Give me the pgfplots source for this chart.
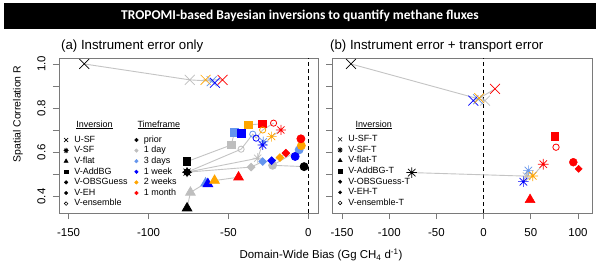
\documentclass[border=0pt]{standalone}
\usepackage{fontspec}
\setmainfont{Liberation Sans}
\newfontfamily\carlito{Carlito}
\usepackage{pgfplots}
\usepackage{pgfplotstable}
\pgfplotsset{compat=1.18}
\definecolor{rgray}{HTML}{BEBEBE}
\definecolor{cblue}{HTML}{6495ED}
\definecolor{rblue}{HTML}{0000FF}
\definecolor{rorange}{HTML}{FFA500}
\definecolor{rred}{HTML}{FF0000}
\definecolor{boxgray}{HTML}{7A7A7A}
\definecolor{lineg}{HTML}{C4C4C4}

\pgfdeclareplotmark{rast}{%
 \pgfpathmoveto{\pgfqpoint{-\pgfplotmarksize}{0pt}}\pgfpathlineto{\pgfqpoint{\pgfplotmarksize}{0pt}}%
 \pgfpathmoveto{\pgfqpoint{0pt}{-\pgfplotmarksize}}\pgfpathlineto{\pgfqpoint{0pt}{\pgfplotmarksize}}%
 \pgfpathmoveto{\pgfqpoint{-.707\pgfplotmarksize}{-.707\pgfplotmarksize}}\pgfpathlineto{\pgfqpoint{.707\pgfplotmarksize}{.707\pgfplotmarksize}}%
 \pgfpathmoveto{\pgfqpoint{-.707\pgfplotmarksize}{.707\pgfplotmarksize}}\pgfpathlineto{\pgfqpoint{.707\pgfplotmarksize}{-.707\pgfplotmarksize}}%
 \pgfusepathqstroke}
\pgfdeclareplotmark{rdiam}{%
 \pgfpathmoveto{\pgfqpoint{0pt}{\pgfplotmarksize}}\pgfpathlineto{\pgfqpoint{\pgfplotmarksize}{0pt}}%
 \pgfpathlineto{\pgfqpoint{0pt}{-\pgfplotmarksize}}\pgfpathlineto{\pgfqpoint{-\pgfplotmarksize}{0pt}}%
 \pgfpathclose\pgfusepathqfillstroke}

% columns: bias (Gg CH4/d), R, timeframe class (p=prior,d=1 day,t=3 days,w=1 week,f=2 weeks,m=1 month)
\pgfplotstableread{
x y c
-140.2 1.000 p
-74.2 0.928 d
-60.5 0.922 t
-58.5 0.915 w
-64.3 0.928 f
-53.7 0.928 m
}\usf
\pgfplotstableread{
x y c
-75.9 0.510 p
-31.7 0.573 d
-28.2 0.648 t
-28.6 0.633 w
-23.0 0.671 f
-17.2 0.701 m
}\vsf
\pgfplotstableread{
x y c
-75.9 0.347 p
-73.8 0.418 d
-64.3 0.460 t
-62.9 0.457 w
-58.7 0.472 f
-43.7 0.487 m
}\vflat
\pgfplotstableread{
x y c
-75.9 0.558 p
-48.3 0.633 d
-46.2 0.691 t
-42.1 0.686 w
-37.5 0.724 f
-28.6 0.729 m
}\vadd
\pgfplotstableread{
x y c
-2.7 0.535 p
-22.4 0.541 d
-5.8 0.611 t
-8.3 0.581 w
-4.4 0.630 f
-4.7 0.661 m
}\vobs
\pgfplotstableread{
x y c
-75.9 0.510 p
-35.8 0.533 d
-28.6 0.558 t
-23.0 0.562 w
-17.8 0.576 f
-14.1 0.596 m
}\veh
\pgfplotstableread{
x y c
-75.9 0.510 p
-42.1 0.614 d
-34.8 0.682 t
-32.7 0.664 w
-28.6 0.701 f
-21.8 0.732 m
}\vens
\pgfplotstableread{
x y c
-140.5 1.000 p
1.5 0.834 d
-5.9 0.840 t
-10.9 0.834 w
-4.6 0.845 f
12.1 0.887 m
}\usft
\pgfplotstableread{
x y c
-76.2 0.508 p
45.5 0.492 d
47.4 0.517 t
42.1 0.467 w
52.0 0.493 f
63.2 0.546 m
}\vsft

\pgfplotsset{
 panel/.style={anchor=south west, scale only axis, height=155bp,
   ymin=0.325, ymax=1.027,
   axis line style={boxgray, line width=0.9bp},
   every tick/.style={boxgray, line width=0.9bp},
   tick align=outside, major tick length=6bp,
   xtick pos=bottom, ytick pos=left,
   ytick={0.4,0.5,0.6,0.7,0.8,0.9,1.0},
   ticklabel style={font=\fontsize{11.5}{12}\selectfont},
   xticklabel shift=6bp,
   yticklabel style={rotate=90, anchor=south},
   yticklabel shift=4bp},
 tf/.style={forget plot, scatter, only marks, scatter src=explicit symbolic,
   line width=0.8bp,
   scatter/classes={p={black}, d={rgray}, t={cblue}, w={rblue}, f={rorange}, m={rred}}},
 conn/.style={forget plot, lineg, line width=0.9bp, no markers},
 zero/.style={forget plot, black, line width=0.9bp, dash pattern=on 4bp off 3bp},
 leg/.style={legend cell align=left,
   legend style={draw=none, fill=none, inner sep=0pt, outer sep=0pt,
     font=\fontsize{9}{10}\selectfont, row sep=1bp, column sep=5bp,
     nodes={inner sep=0.6bp, text height=6.5bp, text depth=1.9bp}, anchor=north west},
   legend image code/.code={\draw[##1] plot coordinates {(0bp,0bp)};}},
}

\begin{document}
\begin{tikzpicture}
\path[use as bounding box, fill=white] (0bp,0bp) rectangle (600bp,271bp);
\fill[black] (4bp,242bp) rectangle (596bp,268bp);
\node[white, font=\carlito\bfseries\fontsize{13.5}{14}\selectfont] at (300bp,255bp) {TROPOMI-based Bayesian inversions to quantify methane fluxes};
\node[anchor=base west, font=\fontsize{13.3}{14}\selectfont, inner sep=0pt] at (61bp,221bp) {(a) Instrument error only};
\node[anchor=base west, font=\fontsize{13.3}{14}\selectfont, inner sep=0pt] at (330bp,221bp) {(b) Instrument error + transport error};

% ---- left panel ----
\begin{axis}[panel, at={(59bp,58bp)}, width=259bp, xmin=-156, xmax=6,
  xtick={-150,-100,-50,0}, xticklabels={-150,-100,-50,0},
  yticklabels={0.4,,0.6,,0.8,,1.0},
  leg, legend style={at={(0.0174,0.502)}}]
\addplot[zero] coordinates {(0,0.2) (0,1.2)};
\addplot[conn] table[x=x,y=y] {\usf};
\addplot[conn] table[x=x,y=y] {\vadd};
\addplot[conn] table[x=x,y=y] {\vsf};
\addplot[conn] table[x=x,y=y] {\vens};
\addplot[conn] table[x=x,y=y] {\vobs};
\addplot[conn] table[x=x,y=y] {\veh};
\addplot[conn] table[x=x,y=y] {\vflat};
\addplot[tf, mark=x, mark size=7bp, line width=0.7bp] table[x=x,y=y,meta=c] {\usf};
\addplot[tf, mark=square*, mark size=3.8bp] table[x=x,y=y,meta=c] {\vadd};
\addplot[tf, mark=o, mark size=3.1bp] table[x=x,y=y,meta=c] {\vens};
\addplot[tf, mark=rast, mark size=5bp, line width=0.7bp] table[x=x,y=y,meta=c] {\vsf};
\addplot[tf, mark=*, mark size=4bp] table[x=x,y=y,meta=c] {\vobs};
\addplot[tf, mark=rdiam, mark size=3.8bp] table[x=x,y=y,meta=c] {\veh};
\addplot[tf, mark=triangle*, mark size=5.5bp] table[x=x,y=y,meta=c] {\vflat};
\addlegendimage{only marks, mark=x, black, mark size=2.8bp, line width=0.6bp}\addlegendentry{U-SF}
\addlegendimage{only marks, mark=rast, black, mark size=2.6bp, line width=0.8bp}\addlegendentry{V-SF}
\addlegendimage{only marks, mark=triangle*, black, mark size=2.4bp}\addlegendentry{V-flat}
\addlegendimage{only marks, mark=square*, black, mark size=1.9bp}\addlegendentry{V-AddBG}
\addlegendimage{only marks, mark=*, black, mark size=1.8bp}\addlegendentry{V-OBSGuess}
\addlegendimage{only marks, mark=rdiam, black, mark size=1.7bp}\addlegendentry{V-EH}
\addlegendimage{only marks, mark=o, black, mark size=1.8bp, line width=0.6bp}\addlegendentry{V-ensemble}
\end{axis}
\begin{axis}[anchor=south west, at={(59bp,58bp)}, scale only axis, width=259bp, height=155bp,
  hide axis, xmin=0, xmax=1, ymin=0, ymax=1,
  leg, legend style={at={(0.292,0.502)}}]
\addlegendimage{only marks, mark=*, black, mark size=1.8bp}\addlegendentry{prior}
\addlegendimage{only marks, mark=*, rgray, mark size=1.8bp}\addlegendentry{1 day}
\addlegendimage{only marks, mark=*, cblue, mark size=1.8bp}\addlegendentry{3 days}
\addlegendimage{only marks, mark=*, rblue, mark size=1.8bp}\addlegendentry{1 week}
\addlegendimage{only marks, mark=*, rorange, mark size=1.8bp}\addlegendentry{2 weeks}
\addlegendimage{only marks, mark=*, rred, mark size=1.8bp}\addlegendentry{1 month}
\end{axis}

% ---- right panel ----
\begin{axis}[panel, at={(332bp,58bp)}, width=260bp, xmin=-160.6, xmax=114.8,
  xtick={-150,-100,-50,0,50,100}, xticklabels={-150,-100,-50,0,50,100},
  yticklabels={},
  leg, legend style={at={(0.0212,0.506)}}]
\addplot[zero] coordinates {(0,0.2) (0,1.2)};
\addplot[conn] table[x=x,y=y] {\usft};
\addplot[conn] table[x=x,y=y] {\vsft};
\addplot[tf, mark=x, mark size=7bp, line width=0.7bp] table[x=x,y=y,meta=c] {\usft};
\addplot[tf, mark=rast, mark size=5.3bp, line width=0.7bp] table[x=x,y=y,meta=c] {\vsft};
\addplot[forget plot, only marks, mark=triangle*, rred, mark size=5.8bp] coordinates {(49.2,0.385)};
\addplot[forget plot, only marks, mark=square*, rred, mark size=3.8bp] coordinates {(75.4,0.674)};
\addplot[forget plot, only marks, mark=o, rred, mark size=3.2bp, line width=0.8bp] coordinates {(76.7,0.623)};
\addplot[forget plot, only marks, mark=*, rred, mark size=4bp] coordinates {(95.0,0.555)};
\addplot[forget plot, only marks, mark=rdiam, rred, mark size=3.6bp] coordinates {(100.7,0.525)};
\addlegendimage{only marks, mark=x, black, mark size=2.8bp, line width=0.6bp}\addlegendentry{U-SF-T}
\addlegendimage{only marks, mark=rast, black, mark size=2.6bp, line width=0.8bp}\addlegendentry{V-SF-T}
\addlegendimage{only marks, mark=triangle*, black, mark size=2.4bp}\addlegendentry{V-flat-T}
\addlegendimage{only marks, mark=square*, black, mark size=1.9bp}\addlegendentry{V-AddBG-T}
\addlegendimage{only marks, mark=*, black, mark size=1.8bp}\addlegendentry{V-OBSGuess-T}
\addlegendimage{only marks, mark=rdiam, black, mark size=1.7bp}\addlegendentry{V-EH-T}
\addlegendimage{only marks, mark=o, black, mark size=1.8bp, line width=0.6bp}\addlegendentry{V-ensemble-T}
\end{axis}

\node[font=\fontsize{9}{10}\selectfont] at (94.5bp,146bp) {\underline{Inversion}};
\node[font=\fontsize{9}{10}\selectfont] at (158.8bp,146bp) {\underline{Timeframe}};
\node[font=\fontsize{9}{10}\selectfont] at (373.7bp,146bp) {\underline{Inversion}};
\node[font=\fontsize{11.5}{12}\selectfont] at (321bp,16bp) {Domain-Wide Bias (Gg CH\textsubscript{4} d\textsuperscript{-1})};
\node[rotate=90, font=\fontsize{10.5}{11}\selectfont] at (18bp,157bp) {Spatial Correlation R};
\end{tikzpicture}
\end{document}
